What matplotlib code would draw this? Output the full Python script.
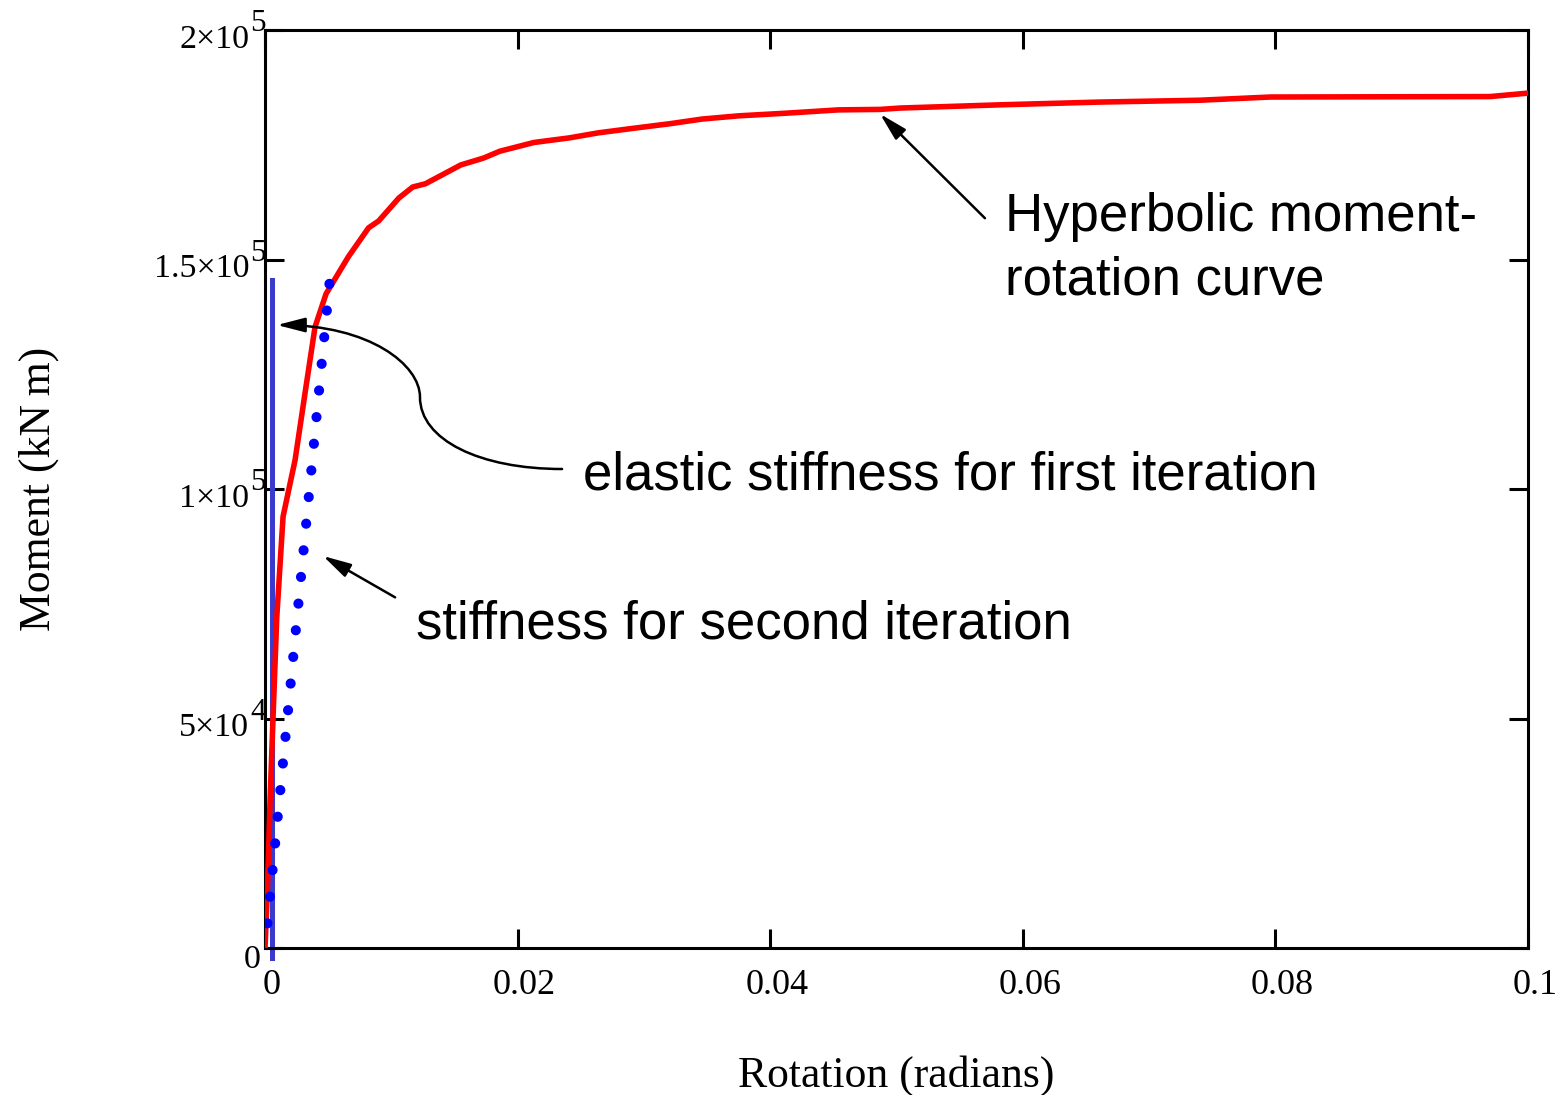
import matplotlib
matplotlib.use("Agg")
import matplotlib.pyplot as plt
from matplotlib.path import Path
from matplotlib.patches import FancyArrowPatch
from matplotlib.transforms import ScaledTranslation

plt.rcParams['font.family'] = ['Liberation Serif', 'DejaVu Serif']

# hyperbolic moment-rotation curve (rotation in radians, moment in kN m)
curve_rot = [0, 0.00018, 0.0004, 0.00066, 0.00093, 0.00143, 0.00238, 0.00317,
             0.00396, 0.00483, 0.0066, 0.0082, 0.0090, 0.0106, 0.0117, 0.0127,
             0.0155, 0.0173, 0.0186, 0.0213, 0.0241, 0.0264, 0.0292, 0.0321,
             0.0346, 0.0375, 0.0414, 0.0454, 0.0487, 0.0503, 0.0582, 0.0661,
             0.0740, 0.0796, 0.0970, 0.0998]
curve_moment = [0, 0.12e5, 0.32e5, 0.52e5, 0.72e5, 0.94e5, 1.063e5, 1.209e5,
                1.353e5, 1.425e5, 1.506e5, 1.569e5, 1.584e5, 1.634e5, 1.658e5, 1.665e5,
                1.706e5, 1.721e5, 1.736e5, 1.755e5, 1.765e5, 1.776e5, 1.786e5, 1.796e5,
                1.806e5, 1.813e5, 1.819e5, 1.826e5, 1.827e5, 1.830e5, 1.837e5, 1.843e5,
                1.847e5, 1.854e5, 1.855e5, 1.862e5]

# elastic stiffness (first iteration) - near vertical line
elastic_rot = [0.00055, 0.00055]
elastic_moment = [-2.2e3, 1.455e5]

# secant stiffness for second iteration (drawn top to bottom)
second_rot = [0.0051, 0.0]
second_moment = [1.447e5, 0.0]

xticks = [0, 0.02, 0.04, 0.06, 0.08, 0.1]
xlabels = ["0", "0.02", "0.04", "0.06", "0.08", "0.1"]
yticks = [0, 5e4, 1e5, 1.5e5, 2e5]
ylabels = ["0", "5\u00d710", "1\u00d710", "1.5\u00d710", "2\u00d710"]
yexps = ["", "4", "5", "5", "5"]

fig = plt.figure(figsize=(15.57, 10.95), dpi=100)
ax = fig.add_axes([0.1702, 0.1342, 0.8112, 0.8384])

ax.plot(curve_rot, curve_moment, color='#ff0000', lw=4, solid_joinstyle='round', zorder=3)
ax.plot(elastic_rot, elastic_moment, color='#3a3acc', lw=3.6, clip_on=False, zorder=2)
ln, = ax.plot(second_rot, second_moment, color='#0000ff', lw=7.3,
              dash_capstyle='round', zorder=4)
ln.set_dashes((0.01, 19.2 / 7.3))

ax.set_xlim(0, 0.1)
ax.set_ylim(0, 2e5)

for s in ax.spines.values():
    s.set_linewidth(2.2)
ax.tick_params(direction='in', length=13.7, width=2.2, top=True, right=True)
ax.tick_params(axis='x', pad=15, labelsize=26)
ax.tick_params(axis='y', pad=11.5, labelsize=24.5)
ax.set_xticks(xticks, xlabels)
ax.set_yticks(yticks, ylabels)

for lab in ax.get_xticklabels():
    lab.set_transform(lab.get_transform() + ScaledTranslation(0.07, 0, fig.dpi_scale_trans))
for i, lab in enumerate(ax.get_yticklabels()):
    dx = 0.12 if i == 0 else 0.0
    dy = -0.08 if i == 0 else -0.06
    lab.set_transform(lab.get_transform() + ScaledTranslation(dx, dy, fig.dpi_scale_trans))

# exponents sit at full size, raised beside "10"
for t, e in zip(yticks, yexps):
    if e:
        ax.annotate(e, xy=(0, t), xycoords=ax.get_yaxis_transform(),
                    xytext=(-15 * 0.72, -1 * 0.72), textcoords='offset points',
                    ha='left', va='baseline', fontsize=22.5, annotation_clip=False)

ax.set_xlabel("Rotation (radians)", fontsize=31.5)
ax.set_ylabel("Moment (kN\u2009m)", fontsize=31.5)
ax.xaxis.set_label_coords(0.5, -0.117)
ax.yaxis.set_label_coords(-0.163, 0.5)

sans = ['Liberation Sans', 'DejaVu Sans']
ax.text(0.0586, 1.423e5, "Hyperbolic moment-\nrotation curve", family=sans,
        fontsize=38, ha='left', va='baseline', linespacing=1.36)
ax.text(0.02518, 1.0e5, "elastic stiffness for first iteration", family=sans,
        fontsize=38, ha='left', va='baseline')
ax.text(0.01196, 0.675e5, "stiffness for second iteration", family=sans,
        fontsize=38, ha='left', va='baseline')

arrow = dict(arrowstyle='-|>,head_length=0.85,head_width=0.22', color='black',
             lw=1.8, shrinkA=0, shrinkB=0, mutation_scale=20)
ax.annotate("", xy=(0.0487, 1.817e5), xytext=(0.057, 1.590e5), arrowprops=arrow)
ax.annotate("", xy=(0.0046, 0.854e5), xytext=(0.0103, 0.764e5), arrowprops=arrow)

verts = [(0.02352, 1.0436e5), (0.01702, 1.0436e5), (0.01227, 1.1068e5), (0.01227, 1.2004e5),
         (0.01227, 1.2702e5), (0.00831, 1.3573e5), (0.00095, 1.3573e5)]
codes = [Path.MOVETO] + [Path.CURVE4] * 6
curved = FancyArrowPatch(path=Path(verts, codes), arrowstyle='-|>,head_length=0.85,head_width=0.22',
                         color='black', lw=1.8, mutation_scale=20, zorder=5)
ax.add_patch(curved)
ax.set_xlim(0, 0.1)
ax.set_ylim(0, 2e5)

fig.savefig("out.png", dpi=100)
